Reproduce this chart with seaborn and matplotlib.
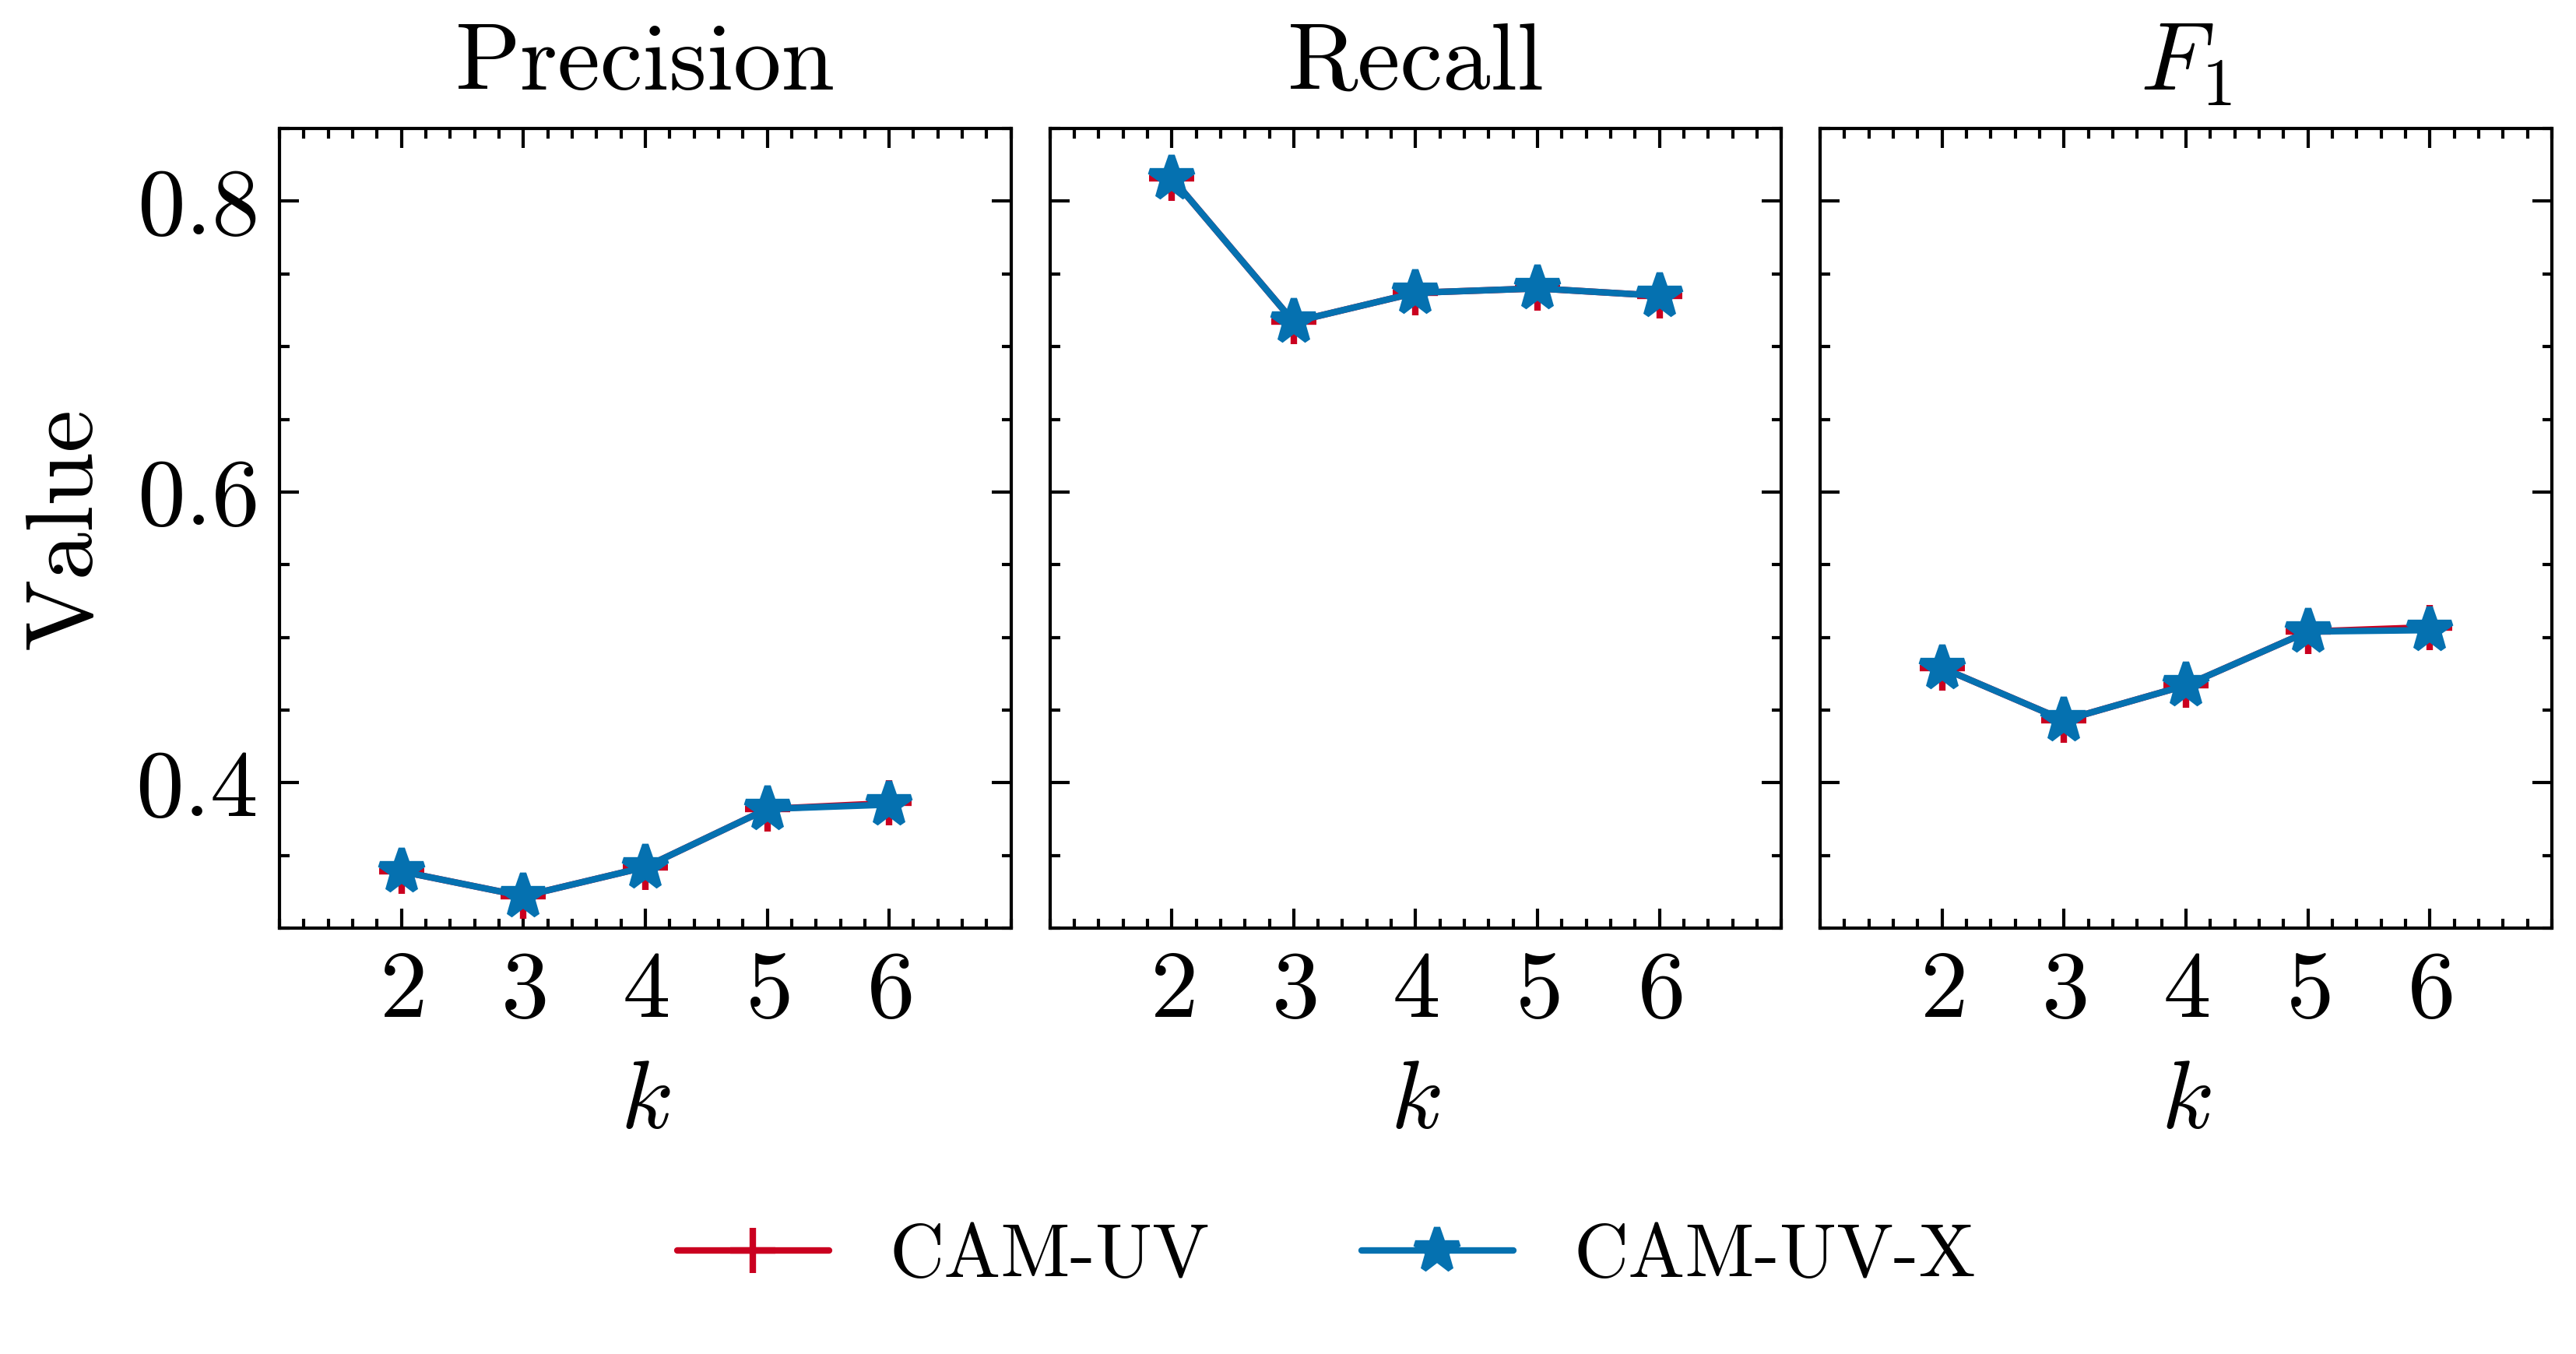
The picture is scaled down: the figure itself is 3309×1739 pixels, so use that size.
import numpy as np
import pandas as pd
import matplotlib
matplotlib.use("Agg")
import matplotlib.pyplot as plt
from matplotlib.ticker import MultipleLocator
import seaborn as sns

# ---- data ----
k_values = [2, 3, 4, 5, 6]
metrics = ["Precision", "Recall", "$F_1$"]
methods = ["CAM-UV", "CAM-UV-X"]

precision_camuv = [0.339, 0.322, 0.342, 0.382, 0.386]
precision_camuvx = [0.339, 0.322, 0.342, 0.382, 0.385]
recall_camuv = [0.816, 0.717, 0.737, 0.740, 0.735]
recall_camuvx = [0.816, 0.717, 0.737, 0.740, 0.735]
f1_camuv = [0.479, 0.443, 0.467, 0.504, 0.507]
f1_camuvx = [0.479, 0.443, 0.467, 0.504, 0.505]

y_ticks = [0.4, 0.6, 0.8]

series = {
    "Precision": {"CAM-UV": precision_camuv, "CAM-UV-X": precision_camuvx},
    "Recall": {"CAM-UV": recall_camuv, "CAM-UV-X": recall_camuvx},
    "$F_1$": {"CAM-UV": f1_camuv, "CAM-UV-X": f1_camuvx},
}

# ---- style ----
FS = 14.8
sns.set_style("ticks")
plt.rcParams.update({
    "font.family": "serif",
    "font.serif": ["cmr10", "DejaVu Serif"],
    "mathtext.fontset": "cm",
    "axes.formatter.use_mathtext": True,
    "axes.unicode_minus": False,
    "font.size": FS,
    "axes.linewidth": 0.5,
    "xtick.direction": "in",
    "ytick.direction": "in",
    "xtick.top": True,
    "ytick.right": True,
    "xtick.major.size": 3,
    "ytick.major.size": 3,
    "xtick.minor.size": 1.5,
    "ytick.minor.size": 1.5,
    "xtick.major.width": 0.5,
    "ytick.major.width": 0.5,
    "xtick.minor.width": 0.5,
    "ytick.minor.width": 0.5,
    "xtick.minor.visible": True,
    "ytick.minor.visible": True,
    "xtick.color": "black",
    "ytick.color": "black",
    "axes.edgecolor": "black",
    "text.color": "black",
    "axes.labelcolor": "black",
})

colors = {"CAM-UV": "#ca0020", "CAM-UV-X": "#0571b0"}
markers = {"CAM-UV": "+", "CAM-UV-X": "*"}

fig, axes = plt.subplots(1, 3, sharey=True, figsize=(3309 / 600, 1739 / 600), dpi=600)
fig.subplots_adjust(left=0.1085, right=0.9906, top=0.9051, bottom=0.3145, wspace=0.053)

for ax, metric in zip(axes, metrics):
    for method in methods:
        df = pd.DataFrame({"k": k_values, "value": series[metric][method]})
        sns.lineplot(data=df, x="k", y="value", ax=ax, color=colors[method],
                     marker=markers[method], markersize=7,
                     markeredgecolor=colors[method], markerfacecolor=colors[method],
                     markeredgewidth=1.0, linewidth=1.0, label=method, legend=False)
    ax.set_title(metric, fontsize=FS)
    ax.set_xlabel("$k$", fontsize=FS)
    ax.set_ylabel("")
    ax.set_xlim(1, 7)
    ax.set_ylim(0.3, 0.85)
    ax.set_xticks(k_values)
    ax.xaxis.set_minor_locator(MultipleLocator(0.2))
    ax.set_yticks(y_ticks)
    ax.yaxis.set_minor_locator(MultipleLocator(0.05))
    ax.tick_params(axis="both", which="both", top=True, right=True, direction="in", labelsize=FS)
    for s in ax.spines.values():
        s.set_visible(True)
        s.set_linewidth(0.5)
        s.set_color("black")

axes[0].set_ylabel("Value", fontsize=FS)

handles, labels = axes[0].get_legend_handles_labels()
fig.legend(handles, labels, loc="center", bbox_to_anchor=(0.515, 0.0713), ncol=2,
           frameon=False, fontsize=11.7, handlelength=2.0, columnspacing=2.0, handletextpad=0.8)

fig.savefig("out.png", dpi=600)
